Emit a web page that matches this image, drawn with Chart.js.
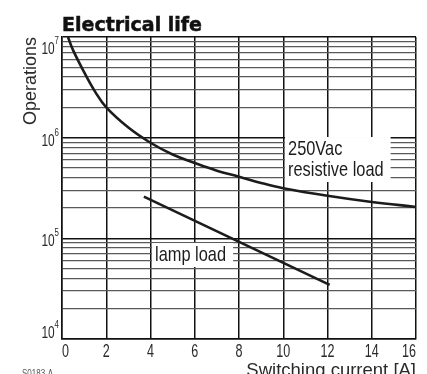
<!DOCTYPE html>
<html>
<head>
<meta charset="utf-8">
<title>Electrical life</title>
<script src="https://cdn.jsdelivr.net/npm/chart.js@4.4.1/dist/chart.umd.min.js"></script>
<style>
  html, body { margin: 0; padding: 0; background: #fff; }
  #wrap { width: 427px; height: 374px; }
</style>
</head>
<body>
<div id="wrap"><canvas id="lifeChart" width="427" height="374"></canvas></div>
<script>
// switching current [A] vs. number of operations
const resistiveCurrent = [0.27, 0.5, 1, 1.5, 2, 3, 4, 5, 6, 7, 8, 9, 10, 12, 14, 16];
const resistiveOps = [1.0e7, 7.4e6, 4.47e6, 2.85e6, 2.0e6, 1.26e6, 8.9e5, 6.8e5, 5.6e5, 4.7e5, 4.1e5, 3.55e5, 3.15e5, 2.65e5, 2.3e5, 2.05e5];
const lampCurrent = [3.7, 12.1];
const lampOps = [2.6e5, 3.45e4];

const xTicks = [0, 2, 4, 6, 8, 10, 12, 14, 16];
const decades = [1e4, 1e5, 1e6, 1e7];
const decadeExp = ['4', '5', '6', '7'];
const yGrid = [];
decades.slice(0, 3).forEach(d => { for (let m = 1; m < 10; m++) yGrid.push(d * m); });
yGrid.push(1e7);

const notes = [
  { x: 10.08, y: 1.015e6, lines: ['250Vac', 'resistive load'] },
  { x: 4.07, y: 8.98e4, lines: ['lamp load'] }
];

const SANS = '"Liberation Sans", Arial, sans-serif';
const INK = '#1c1c1c';

function isDecade(v) {
  const l = Math.log10(v);
  return Math.abs(l - Math.round(l)) < 1e-9;
}

// condensed face is not installed, so squeeze the regular one
function narrowText(ctx, text, x, y, size, squeeze, align) {
  ctx.save();
  ctx.font = size + 'px ' + SANS;
  ctx.translate(x, y);
  ctx.scale(squeeze, 1);
  ctx.textAlign = align || 'left';
  ctx.fillText(text, 0, 0);
  const w = ctx.measureText(text).width * squeeze;
  ctx.restore();
  return w;
}

function narrowWidth(ctx, text, size, squeeze) {
  ctx.save();
  ctx.font = size + 'px ' + SANS;
  const w = ctx.measureText(text).width * squeeze;
  ctx.restore();
  return w;
}

const sheetLabels = {
  id: 'sheetLabels',
  beforeDatasetsDraw(chart) {
    const { ctx, scales: { x, y } } = chart;
    ctx.save();
    notes.forEach(n => {
      const left = x.getPixelForValue(n.x);
      const top = y.getPixelForValue(n.y);
      const w = Math.max(...n.lines.map(t => narrowWidth(ctx, t, 21, 0.78)));
      ctx.fillStyle = '#fff';
      ctx.fillRect(left, top, w + 10, n.lines.length * 21 + 3);
      ctx.fillStyle = INK;
      n.lines.forEach((t, i) => narrowText(ctx, t, left + 3, top + 18 + i * 21, 21, 0.78));
    });
    ctx.restore();
  },
  afterDraw(chart) {
    const { ctx, chartArea, scales: { x, y } } = chart;
    ctx.save();
    ctx.fillStyle = '#111';

    // heading, slightly thickened
    ctx.font = 'bold 19px "DejaVu Sans", sans-serif';
    ctx.textAlign = 'left';
    ctx.strokeStyle = '#111';
    ctx.lineWidth = 0.5;
    ctx.fillText('Electrical life', chartArea.left, 31);
    ctx.strokeText('Electrical life', chartArea.left, 31);

    ctx.fillStyle = '#2a2a2a';
    // current ticks, end labels kept inside the frame
    xTicks.forEach((v, i) => {
      const px = x.getPixelForValue(v);
      let align = 'center';
      if (i === 0) align = 'left';
      if (i === xTicks.length - 1) align = 'right';
      narrowText(ctx, String(v), px, chartArea.bottom + 17.5, 18.5, 0.68, align);
    });

    // decade labels 10^n
    const right = chartArea.left - 3;
    decades.forEach((d, i) => {
      const py = y.getPixelForValue(d);
      let base = py + 8;
      if (i === decades.length - 1) base = py + 17;
      if (i === 0) base = py - 1;
      const sw = narrowText(ctx, decadeExp[i], right, base - 10, 10.5, 0.75, 'right');
      narrowText(ctx, '10', right - sw, base, 17, 0.7, 'right');
    });

    // axis title under the tick labels
    ctx.font = '18.5px ' + SANS;
    ctx.textAlign = 'right';
    ctx.fillText('Switching current [A]', chartArea.right, 376);

    ctx.fillStyle = '#555';
    narrowText(ctx, 'S0183-A', 22, 377, 10, 0.8);
    ctx.restore();
  }
};

const ctx = document.getElementById('lifeChart').getContext('2d');
new Chart(ctx, {
  type: 'line',
  data: {
    datasets: [
      {
        label: '250Vac resistive load',
        data: resistiveCurrent.map((c, i) => ({ x: c, y: resistiveOps[i] })),
        borderColor: INK,
        borderWidth: 2.6,
        pointRadius: 0,
        tension: 0.4,
        fill: false
      },
      {
        label: 'lamp load',
        data: lampCurrent.map((c, i) => ({ x: c, y: lampOps[i] })),
        borderColor: INK,
        borderWidth: 2.6,
        pointRadius: 0,
        fill: false
      }
    ]
  },
  options: {
    responsive: false,
    animation: false,
    layout: { padding: { left: 0, right: 11, top: 37, bottom: 0 } },
    plugins: {
      legend: { display: false },
      tooltip: { enabled: false }
    },
    scales: {
      x: {
        type: 'linear',
        min: 0,
        max: 16,
        afterBuildTicks: s => { s.ticks = xTicks.map(v => ({ value: v })); },
        afterFit: s => { s.height = 35; },
        ticks: { display: false, autoSkip: false },
        grid: { color: '#111', lineWidth: 1.5, drawTicks: false },
        border: { color: '#111', width: 1.5 }
      },
      y: {
        type: 'logarithmic',
        min: 1e4,
        max: 1e7,
        afterBuildTicks: s => { s.ticks = yGrid.map(v => ({ value: v })); },
        afterFit: s => { s.width = 62; },
        ticks: { display: false, autoSkip: false },
        grid: {
          drawTicks: false,
          color: c => (c.tick && isDecade(c.tick.value)) ? '#111' : '#5a5a5a',
          lineWidth: c => (c.tick && isDecade(c.tick.value)) ? 1.5 : 1.3
        },
        border: { color: '#111', width: 1.5 },
        title: {
          display: true,
          text: 'Operations',
          align: 'end',
          color: '#2a2a2a',
          font: { family: SANS, size: 18 },
          padding: { top: 20, bottom: 0 }
        }
      }
    }
  },
  plugins: [sheetLabels]
});
</script>
</body>
</html>
